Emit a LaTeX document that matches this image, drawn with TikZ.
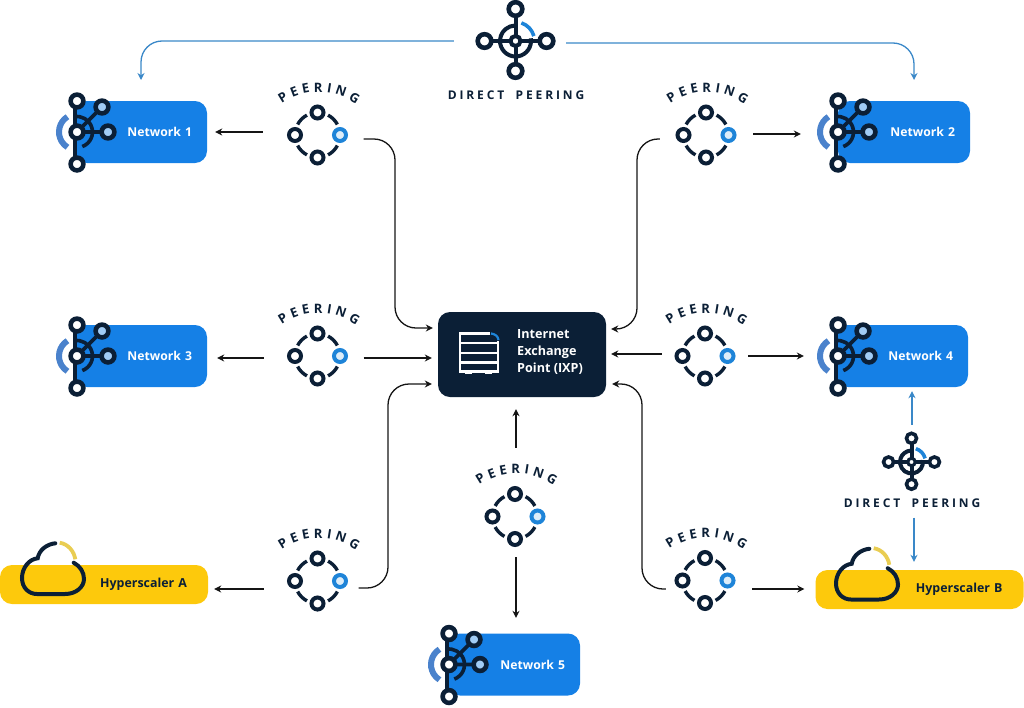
\documentclass[tikz,border=0pt]{standalone}
\usepackage{fontspec}
\usetikzlibrary{arrows.meta,decorations.text}
\setmainfont{Open Sans}
\newfontfamily\spfont[LetterSpace=24,WordSpace=1.9]{Open Sans}
\definecolor{inkdark}{HTML}{0B1F36}
\definecolor{netblue}{HTML}{1580E6}
\definecolor{arcblue}{HTML}{4A82CC}
\definecolor{peerblue}{HTML}{1E84D8}
\definecolor{linkblue}{HTML}{3A88C8}
\definecolor{hyperyellow}{HTML}{FDC90C}
\definecolor{softyellow}{HTML}{E9CD52}
\definecolor{linkblack}{HTML}{151515}
\newcommand{\peerat}[2]{\node[peerbox] (#1) at (#2) {}; \pic at (#2) {peericon};}
\tikzset{
  x=1pt,y=1pt,
  netbox/.style={rectangle,rounded corners=12pt,fill=netblue,text=white,font=\bfseries\fontsize{12.2}{14}\selectfont,
    minimum height=62pt,text width=102pt,inner xsep=15pt,inner ysep=0pt,align=right},
  hyperbox/.style={rectangle,rounded corners=12pt,fill=hyperyellow,text=inkdark,font=\bfseries\fontsize{12.4}{14}\selectfont,
    minimum height=39pt,text width=166pt,inner xsep=21pt,inner ysep=0pt,align=right},
  peerbox/.style={rectangle,minimum size=92pt,inner sep=0pt},
  duallabel/.style={font=\spfont\bfseries\fontsize{12}{14}\selectfont,text=inkdark,inner sep=0pt},
  ring/.style={draw=inkdark,line width=4pt,fill=white},
  thickring/.style={draw=inkdark,line width=4.6pt,fill=white},
  blackarrow/.style={draw=linkblack,line width=1.3pt,-{Stealth[length=7pt,width=7pt]}},
  bluearrow/.style={draw=linkblue,line width=1.3pt,-{Stealth[length=7pt,width=7pt]}},
  curved/.style={rounded corners=21pt},
  peericon/.pic={
    \foreach \a in {45,135,225,315}
      \draw[inkdark,line width=3.4pt] (\a-17:22.5) arc[start angle=\a-17,end angle=\a+17,radius=22.5];
    \draw[ring] (0,22.5) circle[radius=6];
    \draw[ring] (0,-22.5) circle[radius=6];
    \draw[ring] (-22.5,0) circle[radius=6];
    \draw[ring,draw=peerblue,fill=peerblue!15!white] (22.5,0) circle[radius=6];
    \path[decorate,decoration={text along path,text align=fit to path,
      text={|\bfseries\fontsize{13}{15}\selectfont\color{inkdark}|PEERING}}]
      ([shift={(1,-21)}]125:64) arc[start angle=125,end angle=54,radius=64];
  },
  neticon/.pic={
    \draw[arcblue,line width=6pt] (122:18) arc[start angle=122,end angle=238,radius=18];
    \draw[inkdark,line width=4pt] (-2,31) -- (-2,-32);
    \draw[inkdark,line width=3.6pt] (0,0) -- (31,0) (0,0) -- (25,25);
    \draw[inkdark,line width=3.6pt] (-70:15.5) arc[start angle=-70,end angle=100,radius=15.5];
    \draw[thickring] (0,31) circle[radius=6.4];
    \draw[thickring] (0,-32) circle[radius=6.4];
    \draw[thickring] (0,0) circle[radius=6.4];
    \draw[thickring,fill=netblue!40!white] (31,0) circle[radius=6.4];
    \draw[thickring,fill=netblue!40!white] (25,25) circle[radius=6.4];
  },
  dualicon/.pic={
    \draw[inkdark,line width=4pt] (0,32) -- (0,-30) (-31,0) -- (31,0);
    \draw[inkdark,line width=4pt] (10:15.5) arc[start angle=10,end angle=-268,radius=15.5];
    \draw[peerblue,line width=3.6pt] (15:19) arc[start angle=15,end angle=72,radius=19];
    \draw[thickring] (0,32) circle[radius=6.8];
    \draw[thickring] (0,-30) circle[radius=6.8];
    \draw[thickring] (-31,0) circle[radius=6.8];
    \draw[thickring] (31,0) circle[radius=6.8];
    \draw[ring] (0,0) circle[radius=5];
  },
  cloudicon/.pic={
    \draw[softyellow,line width=3.8pt] (37.7,51.3) .. controls (46,50) and (52,43) .. (53.3,34.7);
    \draw[inkdark,line width=4pt,line cap=round] (33.3,50.7) .. controls (25,50) and (17,44) .. (15.7,35.7)
      .. controls (7,35) and (0,26) .. (0,16) .. controls (0,6) and (7,0) .. (15,0) -- (43,0)
      .. controls (54,0) and (62,7) .. (62,15) .. controls (62,22) and (58,28) .. (51.7,31.3);
  },
}
\begin{document}
\begin{tikzpicture}
\useasboundingbox (0,0) rectangle (1024,-707);
% boxes
\node[netbox] (n1) at (141,-132) {Network 1};
\node[netbox] (n2) at (904,-132) {Network 2};
\node[netbox] (n3) at (141,-356) {Network 3};
\node[netbox] (n4) at (902,-356) {Network 4};
\node[netbox] (n5) at (514,-664.5) {Network 5};
\node[hyperbox] (ha) at (104,-584.5) {Hyperscaler A};
\node[hyperbox] (hb) at (919.5,-589.5) {Hyperscaler B};
\node[rectangle,rounded corners=12pt,fill=inkdark,minimum width=168pt,minimum height=85pt,inner sep=0pt] (ixp) at (522,-354.5) {};
\node[anchor=west,text=white,font=\bfseries\fontsize{12.6}{17}\selectfont,align=left,inner sep=0pt] (ixplabel) at (517,-352) {Internet\\Exchange\\Point (IXP)};
% server icon
\draw[white,line width=2.2pt] (490,-333.5) -- (460,-333.5) -- (460,-371.5) -- (498,-371.5) -- (498,-341);
\draw[white,line width=2.2pt] (460,-343) -- (498,-343) (460,-353) -- (498,-353) (460,-362.5) -- (498,-362.5);
\draw[white,line width=2.8pt] (465,-373) -- (472,-373) (485,-373) -- (492,-373);
\draw[peerblue,line width=2.2pt] (491,-333.5) .. controls (495,-334) and (498,-336) .. (498.5,-340);
% icons
\pic at (77,-132) {neticon};
\pic at (838,-132) {neticon};
\pic at (77,-356) {neticon};
\pic at (838,-356) {neticon};
\pic at (449,-664.5) {neticon};
\pic at (22,-594) {cloudicon};
\pic at (836,-599.5) {cloudicon};
% peering
\peerat{p1}{317.5,-135}
\peerat{p2}{706,-135}
\peerat{p3}{317.5,-356}
\peerat{p4}{705,-356}
\peerat{p5}{515,-516.5}
\peerat{p6}{317.5,-581}
\peerat{p7}{705,-580.5}
% direct peering
\node[rectangle,minimum size=64pt,inner sep=0pt] (d1) at (515.5,-41) {};
\pic at (515.5,-41) {dualicon};
\node[duallabel] (d1l) at (516,-95) {DIRECT PEERING};
\node[rectangle,minimum size=46pt,inner sep=0pt] (d2) at (911.5,-462) {};
\pic[transform shape,scale=0.74,thickring/.append style={line width=3.6pt},ring/.append style={line width=3pt}] at (911.5,-462) {dualicon};
\node[duallabel] (d2l) at (912,-503) {DIRECT PEERING};
% black connectors
\draw[blackarrow] ([xshift=-8.5pt,yshift=3pt]p1.west) -- ([xshift=8pt]n1.east);
\draw[blackarrow] ([xshift=-7.5pt,yshift=-2pt]p3.west) -- ([xshift=10pt,yshift=-2pt]n3.east);
\draw[blackarrow] ([xshift=-7.5pt,yshift=-8pt]p6.west) -- ([xshift=6pt,yshift=-4.5pt]ha.east);
\draw[blackarrow] ([xshift=1pt,yshift=1pt]p2.east) -- ([xshift=-37pt,yshift=-2pt]n2.west);
\draw[blackarrow] ([xshift=-3pt]p4.east) -- ([xshift=-32pt]n4.west);
\draw[blackarrow] ([yshift=-8.5pt,xshift=1pt]p7.east) -- ([yshift=0.5pt,xshift=-11pt]hb.west);
\draw[blackarrow,curved] ([yshift=-4pt]p1.east) -- (395,-139) -- (395,-328) -- ([xshift=-5pt,yshift=26.5pt]ixp.west);
\draw[blackarrow,curved] ([yshift=-4pt]p2.west) -- (637,-139) -- (637,-329) -- ([xshift=5pt,yshift=25.5pt]ixp.east);
\draw[blackarrow] ([yshift=-2pt]p3.east) -- ([xshift=-6pt,yshift=-3.5pt]ixp.west);
\draw[blackarrow] ([xshift=3pt,yshift=2pt]p4.west) -- ([xshift=5pt,yshift=0.5pt]ixp.east);
\draw[blackarrow,curved] ([xshift=-5pt,yshift=-7pt]p6.east) -- (388,-588) -- (388,-384) -- ([xshift=-6pt,yshift=-29.5pt]ixp.west);
\draw[blackarrow,curved] ([xshift=7pt,yshift=-8.5pt]p7.west) -- (642,-589) -- (642,-384) -- ([xshift=6pt,yshift=-29.5pt]ixp.east);
\draw[blackarrow] ([xshift=1pt,yshift=22.5pt]p5.north) -- ([xshift=-6pt,yshift=-12pt]ixp.south);
\draw[blackarrow] ([xshift=1pt,yshift=5.5pt]p5.south) -- ([xshift=2pt,yshift=15.5pt]n5.north);
% blue connectors
\coordinate (bl) at (141,-80);
\coordinate (br) at (914,-80);
\draw[bluearrow,curved] ([xshift=-29.5pt]d1.west) -- (141,-41) -- (bl);
\draw[bluearrow,curved] ([xshift=18.5pt,yshift=-2pt]d1.east) -- (914,-43) -- (br);
\draw[bluearrow] ([xshift=0.5pt,yshift=14pt]d2.north) -- ([xshift=10pt,yshift=-4pt]n4.south);
\draw[bluearrow] ([xshift=2pt,yshift=-10pt]d2l.south) -- ([xshift=-5.5pt,yshift=8pt]hb.north);
\end{tikzpicture}
\end{document}
